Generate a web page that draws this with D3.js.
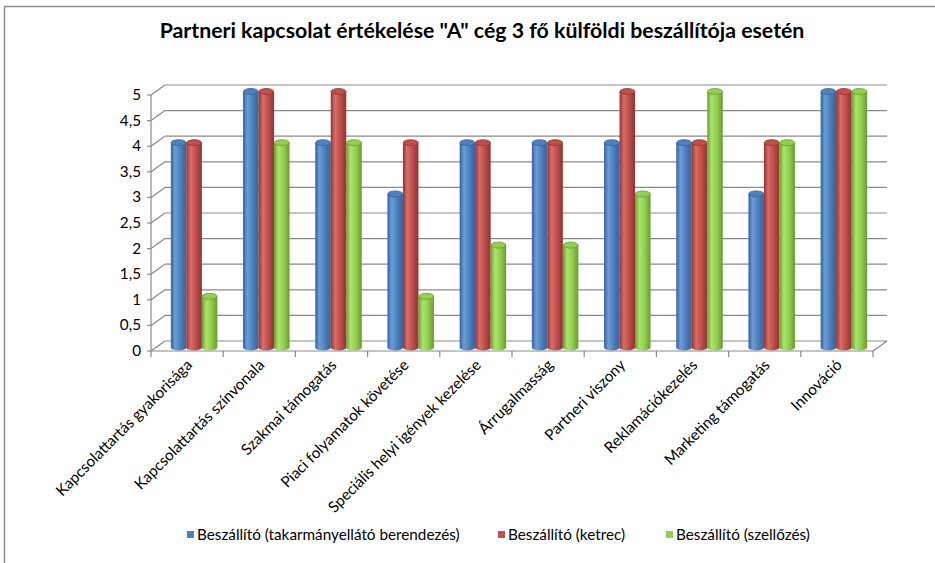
<!DOCTYPE html>
<html>
<head>
<meta charset="utf-8">
<script src="https://cdn.jsdelivr.net/npm/d3@7"></script>
<style>
  body { margin: 0; background: #fff; }
  text { font-family: Lato, "Open Sans", sans-serif; fill: #000; }
</style>
</head>
<body>
<div id="chart"></div>
<script>
/* chart data */
var categories = [
    "Kapcsolattartás gyakorisága",
    "Kapcsolattartás színvonala",
    "Szakmai támogatás",
    "Piaci folyamatok követése",
    "Speciális helyi igények kezelése",
    "Árrugalmasság",
    "Partneri viszony",
    "Reklamációkezelés",
    "Marketing támogatás",
    "Innováció"
];
var seriesNames = [
    "Beszállító (takarmányellátó berendezés)",
    "Beszállító (ketrec)",
    "Beszállító (szellőzés)"
];
var feedValues = [4, 5, 4, 3, 4, 4, 4, 4, 3, 5];
var cageValues = [4, 5, 5, 4, 4, 4, 5, 4, 4, 5];
var ventValues = [1, 4, 4, 1, 2, 2, 3, 5, 4, 5];
var yTicks = [0, 0.5, 1, 1.5, 2, 2.5, 3, 3.5, 4, 4.5, 5];
var chartTitle = 'Partneri kapcsolat értékelése "A" cég 3 fő külföldi beszállítója esetén';

var seriesValues = [feedValues, cageValues, ventValues];
var colors = [
    {base: "#4F81BD", light: "#6d9cd8", dark: "#34629a"},
    {base: "#C0504D", light: "#d66f6b", dark: "#923230"},
    {base: "#92D050", light: "#aee26e", dark: "#699c31"}
];

var W = 935, H = 563;
var x0 = 151, x1 = 873, dx = 14, dy = -10;

var svg = d3.select("#chart").append("svg")
    .attr("width", W)
    .attr("height", H);

var defs = svg.append("defs");
colors.forEach(function(c, i) {
    var g = defs.append("linearGradient").attr("id", "cyl" + i)
        .attr("x1", "0%").attr("x2", "100%").attr("y1", "0%").attr("y2", "0%");
    g.append("stop").attr("offset", "0%").attr("stop-color", c.dark);
    g.append("stop").attr("offset", "28%").attr("stop-color", c.light);
    g.append("stop").attr("offset", "60%").attr("stop-color", c.base);
    g.append("stop").attr("offset", "100%").attr("stop-color", c.dark);
});

// chart border (left + top visible)
svg.append("line").attr("x1", 4.5).attr("x2", 4.5).attr("y1", 6).attr("y2", H)
    .attr("stroke", "#8c8c8c").attr("stroke-width", 1.5);
svg.append("line").attr("x1", 4).attr("x2", W).attr("y1", 6.5).attr("y2", 6.5)
    .attr("stroke", "#8c8c8c").attr("stroke-width", 1.5);

// title
var title = svg.append("text")
    .attr("x", 482).attr("y", 38)
    .attr("text-anchor", "middle")
    .attr("font-weight", "bold")
    .attr("font-size", 18)
    .text(chartTitle);
fitWidth(title, 645);

// work out the small font size from the width of the first legend entry
var probe = svg.append("text").attr("font-size", 13).text(seriesNames[0]);
var fs = 13 * 263 / probe.node().getComputedTextLength();
probe.remove();

var y = d3.scaleLinear().domain([0, 5]).range([351, 95]);
var x = d3.scaleBand().domain(categories).range([x0, x1]);
var groupW = 46.5;
var xs = d3.scaleBand().domain(d3.range(3)).range([0, groupW]);

var grid = svg.append("g").attr("stroke", "#8a8a8a").attr("stroke-width", 1.2).attr("fill", "none");

// back wall gridlines + side wall diagonals
yTicks.forEach(function(t) {
    grid.append("line")
        .attr("x1", x0 + dx).attr("x2", x1 + dx)
        .attr("y1", y(t) + dy).attr("y2", y(t) + dy);
    grid.append("line")
        .attr("x1", x0).attr("x2", x0 + dx)
        .attr("y1", y(t)).attr("y2", y(t) + dy);
    // tick on front axis
    grid.append("line")
        .attr("x1", x0 - 4).attr("x2", x0)
        .attr("y1", y(t)).attr("y2", y(t));
});

// front vertical axis
grid.append("line").attr("x1", x0).attr("x2", x0).attr("y1", y(0)).attr("y2", y(5));

// floor front and right edges
grid.append("line").attr("x1", x0).attr("x2", x1).attr("y1", y(0)).attr("y2", y(0));
grid.append("line").attr("x1", x1).attr("x2", x1 + dx).attr("y1", y(0)).attr("y2", y(0) + dy);

// category ticks
categories.concat(["end"]).forEach(function(c, i) {
    var tx = x0 + i * x.bandwidth();
    grid.append("line").attr("x1", tx).attr("x2", tx).attr("y1", y(0)).attr("y2", y(0) + 6);
});

// y labels
svg.append("g").selectAll("text")
    .data(yTicks)
    .enter().append("text")
    .attr("x", 141)
    .attr("y", function(d) { return y(d) + 5; })
    .attr("text-anchor", "end")
    .attr("font-size", fs)
    .text(function(d) { return String(d).replace(".", ","); });

// cylinders, standing halfway into the depth
var rx = xs.bandwidth() / 2, ry = 3;
var depthShift = -3.5;
var bars = svg.append("g");
categories.forEach(function(cat, ci) {
    var gx = x(cat) + (x.bandwidth() - groupW) / 2 + dx / 2;
    seriesValues.forEach(function(vals, si) {
        var left = gx + xs(si);
        var cx = left + rx;
        var yb = y(0) + depthShift;
        var yt = y(vals[ci]) + depthShift;
        var c = colors[si];
        bars.append("ellipse")
            .attr("cx", cx).attr("cy", yb).attr("rx", rx).attr("ry", ry)
            .attr("fill", "url(#cyl" + si + ")");
        bars.append("rect")
            .attr("x", left).attr("y", yt)
            .attr("width", xs.bandwidth()).attr("height", yb - yt)
            .attr("fill", "url(#cyl" + si + ")");
        bars.append("ellipse")
            .attr("cx", cx).attr("cy", yt).attr("rx", rx - 0.3).attr("ry", ry)
            .attr("fill", c.base)
            .attr("stroke", c.dark).attr("stroke-width", 0.8);
    });
});

// category labels, rotated
svg.append("g").selectAll("text")
    .data(categories)
    .enter().append("text")
    .attr("transform", function(d) {
        var cx = x(d) + x.bandwidth() / 2 + 6;
        return "translate(" + cx + "," + 366 + ") rotate(-45)";
    })
    .attr("text-anchor", "end")
    .attr("font-size", fs)
    .text(function(d) { return d; });

// legend
var legendX = [187, 498, 666];
var legend = svg.append("g");
seriesNames.forEach(function(name, i) {
    legend.append("rect")
        .attr("x", legendX[i]).attr("y", 531)
        .attr("width", 7).attr("height", 7)
        .attr("fill", colors[i].base);
    legend.append("text")
        .attr("x", legendX[i] + 10).attr("y", 540)
        .attr("font-size", fs)
        .text(name);
});

function fitWidth(sel, target) {
    var w = sel.node().getComputedTextLength();
    var size = +sel.attr("font-size");
    sel.attr("font-size", size * target / w);
}
</script>
</body>
</html>
